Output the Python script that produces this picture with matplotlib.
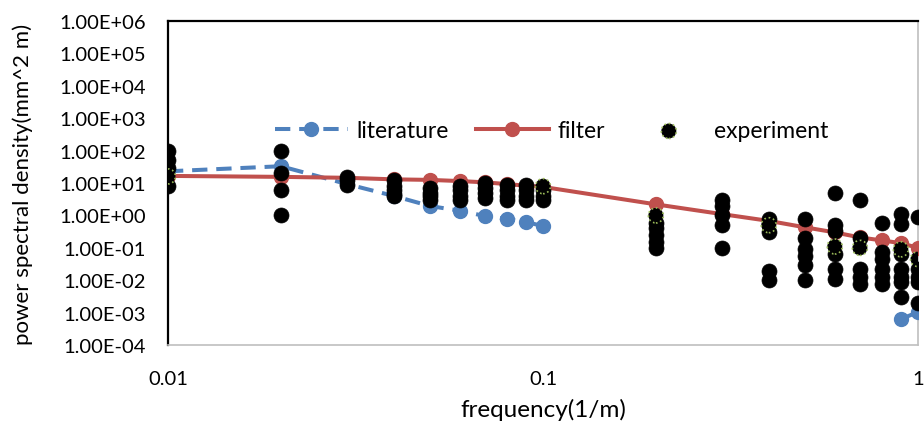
import matplotlib
matplotlib.use("Agg")
import matplotlib.pyplot as plt
import numpy as np
from matplotlib.ticker import FixedLocator, FuncFormatter, NullLocator

plt.rcParams['font.family'] = ['Lato', 'DejaVu Sans']

freq = [0.01, 0.02, 0.03, 0.04, 0.05, 0.06, 0.07, 0.08, 0.09, 0.1,
        0.2, 0.3, 0.4, 0.5, 0.6, 0.7, 0.8, 0.9, 1.0]

literature = [23, 33, 9.3, 4.0, 1.95, 1.4, 0.96, 0.78, 0.63, 0.47,
              np.nan, np.nan, np.nan, np.nan, np.nan, np.nan, np.nan, 6.3e-4, 1.05e-3]

filt = [16.6, 15.5, 14.5, 13, 12.5, 11.5, 10.5, 9.3, 8.3, 7.6,
        2.2, 1.1, 0.68, 0.43, 0.3, 0.21, 0.17, 0.14, 0.1]

# experiment samples (black points) per frequency
experiment = [
    [100, 50, 30, 8],
    [100, 20, 6, 1],
    [15, 12, 9],
    [12, 8, 6, 4.5, 4],
    [7, 5, 4, 3],
    [8, 6, 4, 3],
    [10, 7, 5, 3.5],
    [9, 6, 4, 3],
    [9, 6, 4, 3],
    [6, 4, 3],
    [0.6, 0.4, 0.25, 0.15, 0.1],
    [3, 2, 1, 0.5, 0.1],
    [0.8, 0.3, 0.02, 0.01],
    [0.8, 0.2, 0.09, 0.055, 0.03, 0.01],
    [5, 0.5, 0.33, 0.065, 0.022, 0.011],
    [3, 0.2, 0.022, 0.013, 0.0075],
    [0.6, 0.075, 0.045, 0.022, 0.013, 0.0075],
    [1.1, 0.55, 0.065, 0.022, 0.013, 0.009, 0.003],
    [0.9, 0.022, 0.013, 0.009, 0.002],
]
# experiment series shown in legend (green dotted outline)
experiment_main = [16, np.nan, np.nan, np.nan, np.nan, np.nan, np.nan, np.nan, np.nan, 8,
                   1.0, np.nan, 0.5, np.nan, 0.11, 0.1, np.nan, 0.09, 0.045]

y_ticks = [1e-4, 1e-3, 1e-2, 1e-1, 1e0, 1e1, 1e2, 1e3, 1e4, 1e5, 1e6]
x_ticks = [0.01, 0.1, 1]
x_tick_labels = ['0.01', '0.1', '1']

fig = plt.figure(figsize=(9.24, 4.31), dpi=100)
ax = fig.add_axes([0.1818, 0.197, 0.8117, 0.752])

blue = '#4F81BD'
red = '#C0504D'

ax.plot(freq, literature, color=blue, lw=2.9, dashes=(3.8, 2.2), marker='o',
        markersize=10, markerfacecolor=blue, markeredgecolor=blue,
        label='literature', zorder=3)
ax.plot(freq, filt, color=red, lw=2.9, marker='o', markersize=10,
        markerfacecolor=red, markeredgecolor=red, label='filter', zorder=3)

for f, vals in zip(freq, experiment):
    ax.scatter([f] * len(vals), vals, s=10.8 ** 2, marker='o',
               facecolors='black', edgecolors='black', linewidths=0.5, zorder=4)
ax.scatter(freq, experiment_main, s=10.8 ** 2, marker='o', facecolors='black',
           edgecolors='#9BBB59', linewidths=1.2, linestyles=':',
           label='experiment', zorder=4)

ax.set_xscale('log')
ax.set_yscale('log')
ax.set_xlim(0.01, 1)
ax.set_ylim(1e-4, 1e6)

ax.yaxis.set_major_locator(FixedLocator(y_ticks))
ax.yaxis.set_minor_locator(NullLocator())
ax.yaxis.set_major_formatter(FuncFormatter(lambda v, p: f"{v:.2E}"))
ax.xaxis.set_major_locator(FixedLocator(x_ticks))
ax.xaxis.set_minor_locator(NullLocator())
ax.set_xticklabels(x_tick_labels)

ax.tick_params(axis='both', length=0, labelsize=14.5, colors='black')
ax.tick_params(axis='y', pad=16)
ax.tick_params(axis='x', pad=18)

for s in ['left', 'top']:
    ax.spines[s].set_color('black')
    ax.spines[s].set_linewidth(1.6)
for s in ['right', 'bottom']:
    ax.spines[s].set_color('#BFBFBF')
    ax.spines[s].set_linewidth(1.2)

ax.set_xlabel('frequency(1/m)', fontsize=17.5)
ax.set_ylabel('power spectral density(mm^2 m)', fontsize=16)
ax.xaxis.set_label_coords(0.5, -0.198)
ax.yaxis.set_label_coords(-0.194, 0.5)
ax.xaxis.label.set_va('center')
ax.yaxis.label.set_va('center')

leg = ax.legend(loc='center', bbox_to_anchor=(0.511, 0.662), ncol=3, frameon=False,
                fontsize=16.5, handlelength=3.2, columnspacing=1.2, handletextpad=0.35,
                scatterpoints=1)

fig.savefig('out.png', dpi=100)
